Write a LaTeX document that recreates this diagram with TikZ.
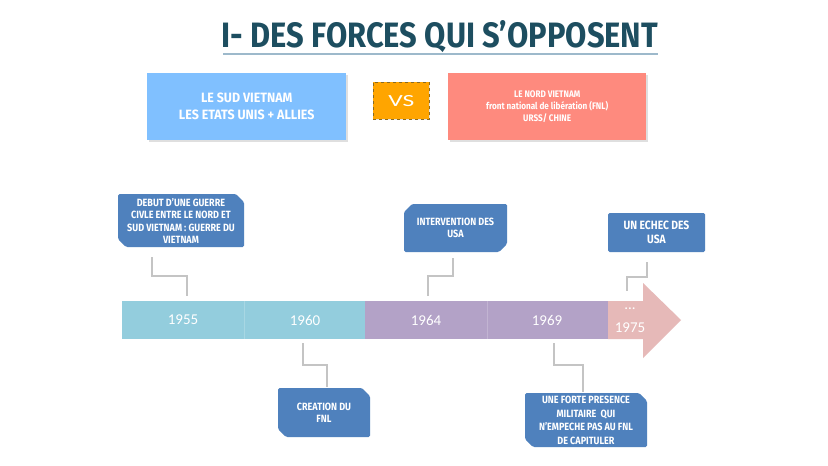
\documentclass[tikz,border=0pt]{standalone}
\usepackage{fontspec}
\setmainfont{Carlito}
\newfontfamily\hand[FakeStretch=0.86]{Fira Sans}
\newfontfamily\handw[FakeStretch=0.92]{Fira Sans}
\usetikzlibrary{shadows}
\definecolor{titlec}{HTML}{1D4E60}
\definecolor{ulinec}{HTML}{9DB9CB}
\definecolor{sudc}{HTML}{80C0FF}
\definecolor{nordc}{HTML}{FE8A7E}
\definecolor{vsc}{HTML}{FFA500}
\definecolor{vsline}{HTML}{8A6A20}
\definecolor{tlblue}{HTML}{93CDDD}
\definecolor{tlpurple}{HTML}{B3A2C7}
\definecolor{tlpink}{HTML}{E6B9B8}
\definecolor{callc}{HTML}{4F81BD}
\definecolor{connc}{HTML}{C4C4C4}
\tikzset{
  topbox/.style={anchor=north west, inner sep=0pt, text=white, align=center,
    font=\handw\bfseries\fontsize{13.5}{17}\selectfont,
    drop shadow={opacity=0.25, shadow xshift=1.5pt, shadow yshift=-1.5pt}},
  calltext/.style={text=white, align=center, inner sep=0pt,
    font=\hand\bfseries\fontsize{10.5}{12.5}\selectfont},
  callfill/.style={fill=callc, rounded corners=1.5pt},
  datetext/.style={text=white, font=\fontsize{15}{16}\selectfont, inner sep=0pt},
  conn/.style={draw=connc, line width=1.3pt}
}
\begin{document}
\begin{tikzpicture}[x=1pt,y=-1pt]
\useasboundingbox (0,0) rectangle (828,466);
\fill[white] (0,0) rectangle (828,466);

% title
\node[text=titlec, inner sep=0pt, font=\hand\bfseries] (title) at (440,36.5)
  {\resizebox{436pt}{27pt}{I- DES FORCES QUI S’OPPOSENT}};
\draw[ulinec, line width=2pt] (223,53.5) -- (658,53.5);

% top boxes
\node[topbox, fill=sudc, minimum width=199pt, minimum height=67pt] (sud) at (147,73)
  {LE SUD VIETNAM\\LES ETATS UNIS + ALLIES};
\node[anchor=north west, fill=vsc, draw=vsline, dashed, line width=0.6pt,
  minimum width=56pt, minimum height=37pt, inner sep=0pt, text=white,
  font=\fontsize{17}{17}\selectfont, drop shadow={opacity=0.2, shadow xshift=1pt, shadow yshift=-1pt}] (vs) at (373,82)
  {\addfontfeature{FakeStretch=1.5}VS};
\node[topbox, fill=nordc, minimum width=198pt, minimum height=67pt,
  font=\hand\bfseries\fontsize{9.5}{12}\selectfont] (nord) at (448,73)
  {LE NORD VIETNAM\\front national de libération (FNL)\\URSS/ CHINE};

% timeline
\fill[tlblue] (122,301) rectangle (365,339);
\fill[tlpurple] (365,301) rectangle (608,339);
\fill[tlpink] (608,301) -- (643,301) -- (643,283) -- (681,320) -- (643,358)
  -- (643,339) -- (608,339) -- cycle;
\draw[white, opacity=0.2, line width=0.6pt] (244,301) -- (244,339);
\draw[white, opacity=0.2, line width=0.6pt] (487,301) -- (487,339);

\node[datetext] (d1955) at (183,320) {1955};
\node[datetext] (d1960) at (305,320) {1960};
\node[datetext] (d1964) at (426,320) {1964};
\node[datetext] (d1969) at (547,320) {1969};
\node[datetext] (ddots) at (630,309) {...};
\node[datetext] (d1975) at (630,328) {1975};

% callout boxes
\fill[callfill] (118,194) -- (236,194) -- (244,202) -- (244,247) -- (126,247) -- (118,239) -- cycle;
\node[calltext] (b1) at (181,221) {DEBUT D’UNE GUERRE\\CIVLE ENTRE LE NORD ET\\SUD VIETNAM : GUERRE DU\\VIETNAM};

\fill[callfill] (404,212) -- (412,204) -- (507,204) -- (507,244) -- (499,252) -- (404,252) -- cycle;
\node[calltext] (b2) at (455.5,228) {INTERVENTION DES\\USA};

\fill[callfill] (608,213) rectangle (705,252);
\node[calltext, font=\hand\bfseries\fontsize{12}{14}\selectfont] (b3) at (656.5,232.5) {UN ECHEC DES\\USA};

\fill[callfill] (278,388) -- (362,388) -- (370,396) -- (370,437) -- (286,437) -- (278,429) -- cycle;
\node[calltext] (b4) at (324,413) {CREATION DU\\FNL};

\fill[callfill] (525,393) -- (639,393) -- (647,401) -- (647,447) -- (533,447) -- (525,439) -- cycle;
\node[calltext, font=\hand\bfseries\fontsize{10.5}{13.5}\selectfont] (b5) at (586,420.5) {UNE FORTE PRESENCE\\MILITAIRE~ QUI\\N’EMPECHE PAS AU FNL\\DE CAPITULER};

% connectors
\coordinate (c1s) at (152,257); \coordinate (c1e) at (187,296);
\coordinate (c2s) at (453,258); \coordinate (c2e) at (428,296);
\coordinate (c3s) at (647,262); \coordinate (c3e) at (627,291);
\coordinate (c4s) at (303,343); \coordinate (c4e) at (327,387);
\coordinate (c5s) at (554,343); \coordinate (c5e) at (583,392);
\draw[conn] (c1s) -- ++(0,19) -| (c1e);
\draw[conn] (c2s) -- ++(0,18) -| (c2e);
\draw[conn] (c3s) -- ++(0,15) -| (c3e);
\draw[conn] (c4s) -- ++(0,22) -| (c4e);
\draw[conn] (c5s) -- ++(0,22) -| (c5e);
\end{tikzpicture}
\end{document}
